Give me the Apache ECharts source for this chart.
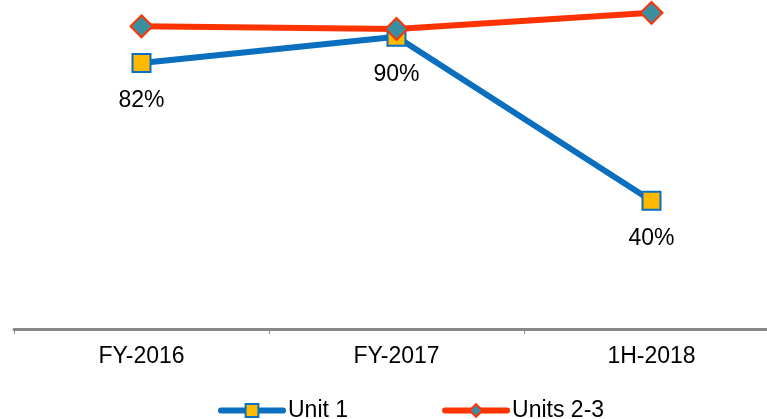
<!DOCTYPE html>
<html>
<head>
<meta charset="utf-8">
<script src="https://cdn.jsdelivr.net/npm/echarts@6/dist/echarts.min.js"></script>
<style>
  html, body { margin: 0; padding: 0; background: #fff; }
  #chart { width: 767px; height: 419px; }
</style>
</head>
<body>
<div id="chart"></div>
<script>
var categories = ['FY-2016', 'FY-2017', '1H-2018'];
var unit1 = [82, 90, 40];
var units23 = [93.2, 92.4, 97.3];

var chart = echarts.init(document.getElementById('chart'));
var font = 'Liberation Sans, Arial, sans-serif';

chart.setOption({
    animation: false,
    grid: {
        left: 14,
        width: 765,
        top: 4,
        bottom: 87,
        outerBoundsMode: 'none'
    },
    xAxis: {
        type: 'category',
        data: categories,
        offset: -3,
        axisLine: { lineStyle: { color: '#888', width: 3 } },
        axisTick: { show: true, length: 5, lineStyle: { color: '#888', width: 1 } },
        axisLabel: { color: '#000', fontSize: 23, fontFamily: font, margin: 16 }
    },
    yAxis: {
        type: 'value',
        min: 0,
        max: 100,
        show: false
    },
    legend: {
        top: 394,
        left: 213,
        itemWidth: 62,
        itemHeight: 16,
        itemGap: 94,
        lineStyle: { width: 6, cap: 'round' },
        textStyle: { color: '#000', fontSize: 23, fontFamily: font },
        data: ['Unit 1', 'Units 2-3']
    },
    series: [
        {
            name: 'Unit 1',
            type: 'line',
            data: unit1,
            symbol: 'rect',
            symbolSize: 18,
            lineStyle: { color: '#0A6FBF', width: 6 },
            itemStyle: { color: '#FFB900', borderColor: '#0A6FBF', borderWidth: 2 },
            label: {
                show: true,
                position: 'bottom',
                distance: 16,
                formatter: '{c}%',
                color: '#000',
                fontSize: 23,
                fontFamily: font
            }
        },
        {
            name: 'Units 2-3',
            type: 'line',
            data: units23,
            symbol: 'diamond',
            symbolSize: 22,
            lineStyle: { color: '#FF3300', width: 6 },
            itemStyle: { color: '#3A8FA3', borderColor: '#FF3300', borderWidth: 2 }
        }
    ]
});
</script>
</body>
</html>
